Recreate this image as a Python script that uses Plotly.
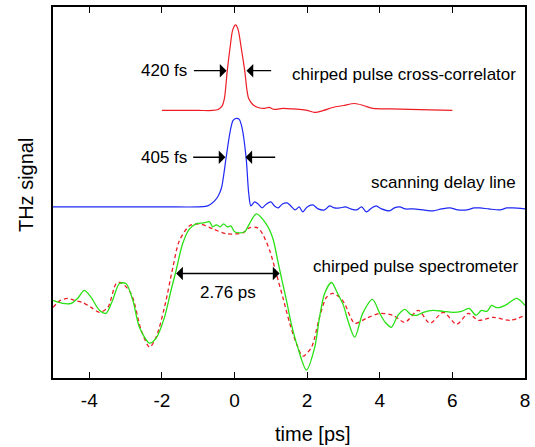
import plotly.graph_objects as go

# ---------------- data (time in ps, signal in arbitrary offset units) ----------------
# chirped pulse cross-correlator (top, red)
cc_t = [-2.0, -1.0, -0.6, -0.45, -0.35, -0.28, -0.2, -0.12, -0.05, 0.03, 0.1, 0.18, 0.28, 0.34,
        0.39, 0.5, 0.65, 0.8, 0.95, 1.1, 1.33, 1.6, 1.79, 2.0, 2.2, 2.45, 2.7, 3.0, 3.31, 3.55,
        3.81, 4.3, 4.83, 5.4, 6.0]
cc_s = [269, 269, 269, 270, 273, 281, 309, 333, 350, 355, 350, 333, 309, 290,
        281, 275, 272, 271, 272, 270, 271, 270.5, 270, 269, 267, 269, 272, 274, 276, 274,
        271, 270.5, 270, 269.5, 269]

# scanning delay line (middle, blue)
sdl_t = [-5.0, -2.0, -1.0, -0.8, -0.69, -0.55, -0.45, -0.36, -0.23, -0.12, -0.04, 0.05, 0.13,
         0.21, 0.32, 0.39, 0.45, 0.55, 0.65, 0.76, 0.88, 1.0, 1.1, 1.2, 1.32, 1.45, 1.55, 1.67,
         1.78, 1.88, 2.0, 2.16, 2.3, 2.48, 2.62, 2.75, 2.9, 3.05, 3.2, 3.36, 3.5, 3.63, 3.78,
         3.9, 4.05, 4.27, 4.4, 4.55, 4.7, 4.92, 5.2, 5.47, 5.7, 5.93, 6.15, 6.4, 6.6, 6.76,
         7.0, 7.31, 7.5, 7.67, 8.0]
sdl_s = [172, 172, 172, 172.5, 174, 178, 183, 191, 222, 248, 259, 261, 260,
         251, 221, 186, 173, 177, 175, 171, 175, 177, 173, 171, 175, 176, 173, 169,
         172, 167, 172, 174, 170, 169, 173, 171, 171, 172, 170, 169, 172, 167, 171,
         173, 170, 168, 171, 172, 170, 170, 169, 168, 170, 171, 169, 169, 171, 171,
         170, 169, 171, 171, 170]

# chirped pulse spectrometer, measured (green)
cps_t = [-5.0, -4.74, -4.5, -4.3, -4.14, -3.95, -3.72, -3.54, -3.36, -3.17, -2.99, -2.8, -2.62,
         -2.34, -2.16, -1.93, -1.75, -1.61, -1.43, -1.24, -1.06, -0.85, -0.69, -0.6, -0.5,
         -0.4, -0.3, -0.2, -0.1, 0.0, 0.15, 0.28, 0.41, 0.6, 0.87, 1.05, 1.19, 1.29, 1.43,
         1.56, 1.74, 1.98, 2.21, 2.34, 2.48, 2.67, 2.84, 3.0, 3.12, 3.31, 3.53, 3.8, 4.0,
         4.15, 4.32, 4.5, 4.69, 4.85, 5.01, 5.2, 5.47, 5.75, 6.02, 6.25, 6.46, 6.65, 6.8,
         6.95, 7.08, 7.2, 7.31, 7.5, 7.77, 8.0]
cps_s = [78, 75, 75, 81, 88, 81, 68, 65, 78, 95, 95, 78, 51,
         35, 40, 61, 88, 108, 135, 150, 155, 156, 157, 152, 154,
         152, 155, 152, 153, 147, 146, 147, 155, 165, 155, 141, 118, 101, 78,
         55, 31, 8, 31, 61, 85, 96, 85, 73, 58, 41, 65, 79, 65,
         56, 51, 63, 69, 64, 63, 66, 68, 67, 66, 67, 70, 63, 68,
         67, 73, 71, 71, 74, 80, 73]

# chirped pulse spectrometer, reference (red dashed)
ref_t = [-5.0, -4.8, -4.6, -4.4, -4.19, -3.95, -3.72, -3.49, -3.26, -3.13, -2.85, -2.57, -2.34,
         -2.16, -1.93, -1.7, -1.52, -1.24, -0.97, -0.6, -0.23, 0.23, 0.41, 0.64, 0.77, 0.97,
         1.15, 1.33, 1.52, 1.7, 1.88, 2.12, 2.34, 2.53, 2.7, 2.9, 3.03, 3.31, 3.63, 4.0, 4.37,
         4.69, 5.06, 5.38, 5.75, 6.12, 6.44, 6.71, 7.13, 7.59, 8.0]
ref_s = [71, 78, 80, 78, 76, 71, 66, 71, 95, 96, 85, 48, 31,
         41, 71, 111, 138, 153, 155, 150, 145, 146, 151, 151, 145, 128,
         105, 81, 55, 35, 22, 31, 61, 81, 85, 81, 75, 55, 60, 65, 63,
         56, 68, 55, 66, 54, 65, 58, 61, 58, 63]

x_ticks = [-4, -2, 0, 2, 4, 6, 8]
x_tick_labels = ["-4", "-2", "0", "2", "4", "6", "8"]
x_range = [-5, 8]
y_range = [0, 373]

for a, b in [(cc_t, cc_s), (sdl_t, sdl_s), (cps_t, cps_s), (ref_t, ref_s)]:
    assert len(a) == len(b), (len(a), len(b))

FONT = "Liberation Sans, Arial, Helvetica, sans-serif"
RED = "rgb(238,28,36)"
BLUE = "rgb(30,40,245)"
GREEN = "rgb(40,225,20)"

fig = go.Figure()
fig.add_trace(go.Scatter(x=ref_t, y=ref_s, mode="lines",
                         line=dict(color=RED, width=1.3, dash="4px,3px", shape="spline", smoothing=0.8)))
fig.add_trace(go.Scatter(x=cps_t, y=cps_s, mode="lines",
                         line=dict(color=GREEN, width=1.3, shape="spline", smoothing=0.8)))
fig.add_trace(go.Scatter(x=sdl_t, y=sdl_s, mode="lines",
                         line=dict(color=BLUE, width=1.2, shape="spline", smoothing=0.8)))
fig.add_trace(go.Scatter(x=cc_t, y=cc_s, mode="lines",
                         line=dict(color=RED, width=1.2, shape="spline", smoothing=0.8)))

ann = []
def text(x, y, s, anchor="center", size=17):
    ann.append(dict(x=x, y=y, xref="x", yref="y", text=s, showarrow=False,
                    xanchor=anchor, yanchor="middle",
                    font=dict(family=FONT, size=size, color="black")))

def arrow(x0, x1, y, both=False):
    ann.append(dict(x=x1, y=y, ax=x0, ay=y, xref="x", yref="y", axref="x", ayref="y",
                    text="", showarrow=True, arrowhead=1, arrowsize=1.6, arrowwidth=1.4,
                    arrowcolor="black", standoff=0, startstandoff=0,
                    arrowside="end+start" if both else "end", startarrowhead=1,
                    startarrowsize=1.6))

text(-1.93, 309, "420 fs")
arrow(-1.16, -0.22, 309)
arrow(1.05, 0.33, 309)
text(-1.93, 222, "405 fs")
arrow(-1.18, -0.25, 222)
arrow(1.16, 0.30, 222)
text(-0.19, 86, "2.76 ps")
arrow(-1.65, 1.24, 105, both=True)
text(7.8, 305, "chirped pulse cross-correlator", anchor="right")
text(7.8, 197, "scanning delay line", anchor="right")
text(7.85, 112, "chirped pulse spectrometer", anchor="right")

ann.append(dict(x=0.551, y=0, xref="paper", yref="paper", yshift=-56, text="time [ps]",
                showarrow=False, xanchor="center", yanchor="middle",
                font=dict(family=FONT, size=20, color="black")))
ann.append(dict(x=0, y=0.52, xref="paper", yref="paper", xshift=-27, text="THz signal",
                showarrow=False, xanchor="center", yanchor="middle", textangle=-90,
                font=dict(family=FONT, size=20, color="black")))

fig.update_layout(
    width=535, height=447,
    margin=dict(l=53, r=10, t=5, b=69),
    paper_bgcolor="white", plot_bgcolor="white",
    showlegend=False,
    annotations=ann,
    xaxis=dict(range=x_range, tickvals=x_ticks, ticktext=x_tick_labels,
               ticks="inside", ticklen=6, tickwidth=1.2,
               tickcolor="black", showline=True, linecolor="black", linewidth=1.8,
               mirror="ticks", showgrid=False, zeroline=False, ticklabelstandoff=4,
               tickfont=dict(family=FONT, size=19, color="black")),
    yaxis=dict(range=y_range, showticklabels=False, ticks="", showline=True,
               linecolor="black", linewidth=1.8, mirror=True, showgrid=False,
               zeroline=False),
)

fig.write_html("out.html", config={"displayModeBar": False},
               post_script="document.body.style.margin='0';")
